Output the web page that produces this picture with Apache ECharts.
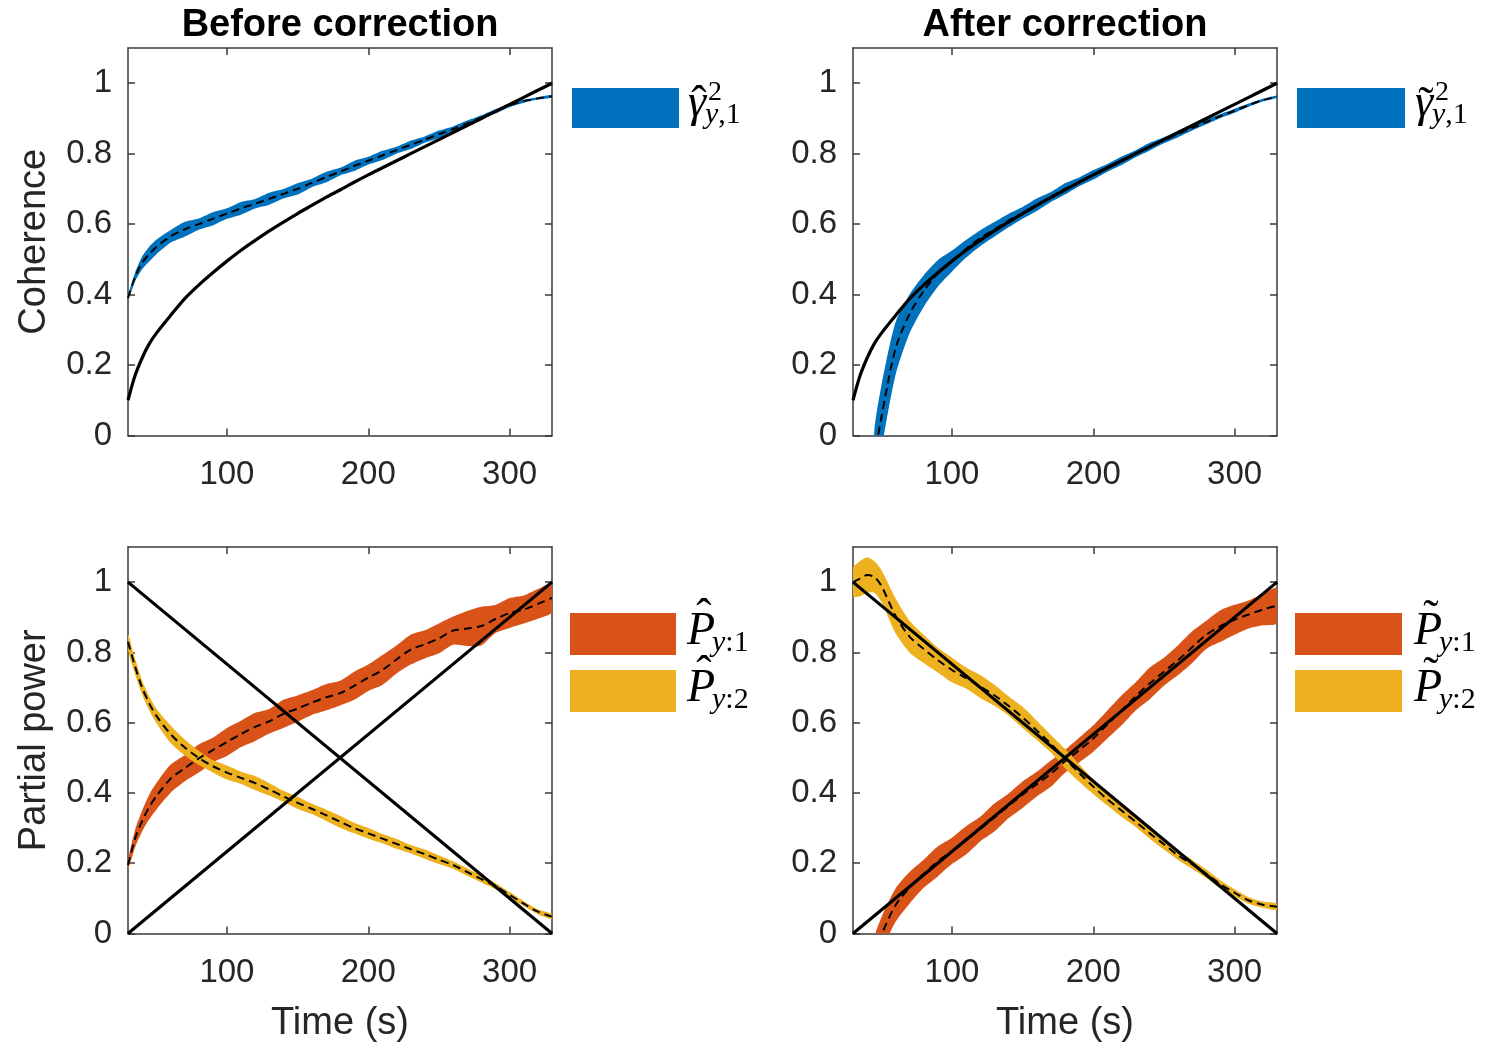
<!DOCTYPE html>
<html>
<head>
<meta charset="utf-8">
<script src="https://cdn.jsdelivr.net/npm/echarts@6/dist/echarts.min.js"></script>
<style>
  html, body { margin: 0; padding: 0; background: #fff; }
  #chart { width: 1486px; height: 1047px; }
</style>
</head>
<body>
<div id="chart"></div>
<script>
// sample times (s), shared by every estimate
const time = [30, 35, 40, 45, 50, 60, 70, 80, 90, 100, 110,
  120, 130, 140, 150, 160, 170, 180, 190, 200, 210, 220,
  230, 240, 250, 260, 270, 280, 290, 300, 310, 320, 330];

// true coherence (black curve, both top panels)
const trueCoherence = [0.10, 0.17, 0.22, 0.26, 0.29, 0.34, 0.388, 0.427, 0.462, 0.495, 0.526,
  0.554, 0.581, 0.606, 0.63, 0.653, 0.676, 0.697, 0.719, 0.74, 0.76, 0.78,
  0.80, 0.82, 0.84, 0.86, 0.88, 0.90, 0.92, 0.94, 0.96, 0.98, 1.0];

// coherence estimate before correction (dashed) and band thickness
const cohBeforeEst = [0.39, 0.45, 0.49, 0.515, 0.535, 0.565, 0.585, 0.60, 0.615, 0.63, 0.645,
  0.658, 0.672, 0.686, 0.70, 0.717, 0.733, 0.749, 0.765, 0.78, 0.795, 0.81,
  0.825, 0.84, 0.855, 0.87, 0.886, 0.903, 0.92, 0.937, 0.949, 0.957, 0.963];
const cohBeforeWidth = [0.012, 0.025, 0.036, 0.042, 0.042, 0.036, 0.042, 0.032, 0.038, 0.03, 0.036,
  0.027, 0.034, 0.027, 0.032, 0.024, 0.03, 0.022, 0.029, 0.022, 0.026, 0.02,
  0.024, 0.018, 0.021, 0.015, 0.016, 0.012, 0.012, 0.01, 0.009, 0.007, 0.007];

// coherence estimate after correction
const cohAfterEst = [null, null, null, -0.07, 0.05, 0.245, 0.345, 0.41, 0.46, 0.495, 0.53,
  0.56, 0.585, 0.61, 0.632, 0.655, 0.677, 0.70, 0.72, 0.74, 0.76, 0.78,
  0.80, 0.82, 0.838, 0.856, 0.873, 0.89, 0.907, 0.922, 0.938, 0.952, 0.962];
const cohAfterWidth = [null, null, null, 0.16, 0.18, 0.15, 0.11, 0.09, 0.075, 0.06, 0.05,
  0.045, 0.042, 0.038, 0.033, 0.035, 0.028, 0.032, 0.025, 0.027, 0.022, 0.024,
  0.02, 0.022, 0.017, 0.018, 0.014, 0.013, 0.011, 0.011, 0.009, 0.008, 0.007];

// true partial powers (black straight lines, both bottom panels)
const trueTime = [30, 330];
const truePower1 = [0, 1];
const truePower2 = [1, 0];

// partial power estimates before correction
const p1BeforeEst = [0.195, 0.27, 0.32, 0.36, 0.39, 0.44, 0.47, 0.498, 0.522, 0.545, 0.568,
  0.588, 0.604, 0.625, 0.64, 0.657, 0.672, 0.684, 0.705, 0.728, 0.75, 0.78,
  0.808, 0.823, 0.84, 0.862, 0.868, 0.875, 0.895, 0.912, 0.922, 0.938, 0.955];
const p1BeforeWidth = [0.025, 0.05, 0.06, 0.07, 0.075, 0.08, 0.075, 0.08, 0.07, 0.08, 0.075,
  0.08, 0.07, 0.08, 0.075, 0.07, 0.075, 0.07, 0.08, 0.075, 0.085, 0.08,
  0.085, 0.08, 0.085, 0.08, 0.1, 0.11, 0.08, 0.085, 0.08, 0.085, 0.08];
const p2BeforeEst = [0.83, 0.76, 0.70, 0.655, 0.62, 0.568, 0.53, 0.50, 0.476, 0.458, 0.443,
  0.428, 0.41, 0.39, 0.372, 0.355, 0.337, 0.318, 0.30, 0.285, 0.27, 0.255,
  0.24, 0.226, 0.21, 0.195, 0.175, 0.155, 0.135, 0.11, 0.085, 0.062, 0.048];
const p2BeforeWidth = [0.045, 0.045, 0.04, 0.04, 0.04, 0.05, 0.045, 0.04, 0.035, 0.04, 0.035,
  0.04, 0.035, 0.032, 0.035, 0.03, 0.032, 0.034, 0.03, 0.03, 0.026, 0.028,
  0.024, 0.026, 0.024, 0.021, 0.021, 0.019, 0.018, 0.016, 0.014, 0.014, 0.014];

// partial power estimates after correction
const p1AfterEst = [null, null, null, -0.06, -0.005, 0.08, 0.13, 0.17, 0.205, 0.235, 0.265,
  0.297, 0.33, 0.363, 0.395, 0.425, 0.455, 0.49, 0.522, 0.555, 0.595, 0.635,
  0.675, 0.712, 0.745, 0.778, 0.815, 0.85, 0.875, 0.893, 0.908, 0.922, 0.933];
const p1AfterWidth = [null, null, null, 0.09, 0.1, 0.095, 0.09, 0.08, 0.085, 0.075, 0.08,
  0.07, 0.08, 0.07, 0.075, 0.07, 0.075, 0.065, 0.07, 0.075, 0.08, 0.085,
  0.08, 0.09, 0.08, 0.085, 0.09, 0.08, 0.09, 0.085, 0.08, 0.09, 0.1];
const p2AfterEst = [1.0, 1.01, 1.02, 1.015, 0.99, 0.905, 0.845, 0.81, 0.778, 0.75, 0.727,
  0.703, 0.678, 0.648, 0.615, 0.578, 0.54, 0.498, 0.457, 0.418, 0.382, 0.35,
  0.318, 0.285, 0.254, 0.222, 0.197, 0.17, 0.14, 0.116, 0.094, 0.082, 0.076];
const p2AfterWidth = [0.08, 0.1, 0.1, 0.09, 0.09, 0.1, 0.09, 0.08, 0.07, 0.07, 0.06,
  0.065, 0.06, 0.055, 0.06, 0.055, 0.05, 0.055, 0.05, 0.042, 0.036, 0.036,
  0.03, 0.03, 0.03, 0.025, 0.025, 0.024, 0.022, 0.02, 0.019, 0.018, 0.018];

const xTicks = [100, 200, 300];
const yTicks = [0, 0.2, 0.4, 0.6, 0.8, 1];

const blue = '#0072BD';
const orange = '#D95319';
const yellow = '#EDB120';
const axisColor = '#3a3a3a';
const textColor = '#262626';
const sans = '"Liberation Sans", Arial, sans-serif';
const serif = '"Liberation Serif", "Times New Roman", serif';

const grids = [
  { left: 128, top: 48, width: 424, height: 387.5 },
  { left: 853, top: 48, width: 424, height: 387.5 },
  { left: 128, top: 547, width: 424, height: 386.5 },
  { left: 853, top: 547, width: 424, height: 386.5 }
];
const yNames = ['Coherence', '', 'Partial power', ''];

const xAxes = [];
const yAxes = [];
grids.forEach((g, i) => {
  ['bottom', 'top'].forEach((pos) => {
    xAxes.push({
      type: 'value', gridIndex: i, position: pos, min: 30, max: 330,
      axisLine: { show: true, onZero: false, lineStyle: { color: axisColor, width: 1.5 } },
      axisTick: { show: true, inside: true, length: 7, customValues: xTicks, lineStyle: { color: axisColor, width: 1.5 } },
      axisLabel: { show: pos === 'bottom', customValues: xTicks, margin: 23, fontSize: 33, fontFamily: sans, color: textColor },
      splitLine: { show: false },
      name: pos === 'bottom' && i >= 2 ? 'Time (s)' : '',
      nameLocation: 'middle', nameGap: 71,
      nameTextStyle: { fontSize: 38, fontFamily: sans, color: textColor }
    });
  });
  ['left', 'right'].forEach((pos) => {
    yAxes.push({
      type: 'value', gridIndex: i, position: pos, min: 0, max: 1.1,
      axisLine: { show: true, onZero: false, lineStyle: { color: axisColor, width: 1.5 } },
      axisTick: { show: true, inside: true, length: 7, customValues: yTicks, lineStyle: { color: axisColor, width: 1.5 } },
      axisLabel: { show: pos === 'left', customValues: yTicks, margin: 16, fontSize: 33, fontFamily: sans, color: textColor },
      splitLine: { show: false },
      name: pos === 'left' ? yNames[i] : '',
      nameLocation: 'middle', nameGap: 74,
      nameTextStyle: { fontSize: 38, fontFamily: sans, color: textColor }
    });
  });
});

// confidence band drawn as one polygon through the axis scales
function band(g, est, width, color) {
  const pts = [];
  time.forEach((t, i) => {
    if (est[i] != null) pts.push([t, est[i] - width[i] / 2, est[i] + width[i] / 2]);
  });
  return {
    type: 'custom', xAxisIndex: 2 * g, yAxisIndex: 2 * g, silent: true, z: 2,
    data: pts,
    renderItem(params, api) {
      if (params.dataIndex !== 0) return;
      const upper = pts.map((p) => api.coord([p[0], p[2]]));
      const lower = pts.map((p) => api.coord([p[0], p[1]])).reverse();
      const cs = params.coordSys;
      return {
        type: 'polygon',
        shape: { points: upper.concat(lower), smooth: 0.25 },
        style: { fill: color },
        clipPath: { type: 'rect', shape: { x: cs.x, y: cs.y, width: cs.width, height: cs.height } }
      };
    }
  };
}

function dashed(g, est) {
  return {
    type: 'line', xAxisIndex: 2 * g, yAxisIndex: 2 * g, silent: true, z: 3,
    data: time.map((t, i) => [t, est[i]]).filter((p) => p[1] != null),
    symbol: 'none', smooth: 0.3,
    lineStyle: { color: '#000', width: 2, type: [8, 5] }
  };
}

function solid(g, xs, ys) {
  return {
    type: 'line', xAxisIndex: 2 * g, yAxisIndex: 2 * g, silent: true, z: 4,
    data: xs.map((t, i) => [t, ys[i]]),
    symbol: 'none', smooth: 0.3,
    lineStyle: { color: '#000', width: 3.2 }
  };
}

const series = [
  band(0, cohBeforeEst, cohBeforeWidth, blue),
  dashed(0, cohBeforeEst),
  solid(0, time, trueCoherence),
  band(1, cohAfterEst, cohAfterWidth, blue),
  dashed(1, cohAfterEst),
  solid(1, time, trueCoherence),
  band(2, p1BeforeEst, p1BeforeWidth, orange),
  band(2, p2BeforeEst, p2BeforeWidth, yellow),
  dashed(2, p1BeforeEst),
  dashed(2, p2BeforeEst),
  solid(2, trueTime, truePower1),
  solid(2, trueTime, truePower2),
  band(3, p1AfterEst, p1AfterWidth, orange),
  band(3, p2AfterEst, p2AfterWidth, yellow),
  dashed(3, p1AfterEst),
  dashed(3, p2AfterEst),
  solid(3, trueTime, truePower1),
  solid(3, trueTime, truePower2)
];

// legend boxes with LaTeX-like labels
const legends = [
  { x: 572, y: 88, w: 107, h: 40, color: blue, tx: 688, base: 118, sym: 'γ', acc: 'ˆ', sup: '2', sub: ',1' },
  { x: 1297, y: 88, w: 108, h: 40, color: blue, tx: 1415, base: 118, sym: 'γ', acc: '˜', sup: '2', sub: ',1' },
  { x: 570, y: 613, w: 106, h: 42, color: orange, tx: 687, base: 646, sym: 'P', acc: 'ˆ', sub: ':1' },
  { x: 570, y: 670, w: 106, h: 42, color: yellow, tx: 687, base: 703, sym: 'P', acc: 'ˆ', sub: ':2' },
  { x: 1295, y: 613, w: 107, h: 42, color: orange, tx: 1414, base: 646, sym: 'P', acc: '˜', sub: ':1' },
  { x: 1295, y: 670, w: 107, h: 42, color: yellow, tx: 1414, base: 703, sym: 'P', acc: '˜', sub: ':2' }
];
const graphic = [];
legends.forEach((l) => {
  const isP = l.sym === 'P';
  graphic.push({ type: 'rect', shape: { x: l.x, y: l.y, width: l.w, height: l.h }, style: { fill: l.color } });
  graphic.push({ type: 'text', x: l.tx, y: l.base - 14,
    style: { text: l.sym, font: 'italic 46px ' + serif, fill: '#000', textAlign: 'left', textVerticalAlign: 'middle' } });
  graphic.push({ type: 'text', x: l.tx + (isP ? 17 : 11), y: (isP ? l.base - 42 : l.base - 27) + 15,
    style: { text: l.acc, font: '46px ' + serif, fill: '#000', textAlign: 'center', textVerticalAlign: 'middle' } });
  if (l.sup) {
    graphic.push({ type: 'text', x: l.tx + 20, y: l.base - 16 - 9,
      style: { text: l.sup, font: '28px ' + serif, fill: '#000', textAlign: 'left', textVerticalAlign: 'middle' } });
  }
  graphic.push({ type: 'text', x: l.tx + (isP ? 25 : 17), y: l.base + 6 - 9,
    style: {
      text: '{i|y}{r|' + l.sub + '}', textAlign: 'left', textVerticalAlign: 'middle',
      rich: {
        i: { fontStyle: 'italic', fontSize: 30, fontFamily: serif, fill: '#000' },
        r: { fontSize: 30, fontFamily: serif, fill: '#000' }
      }
    } });
});
graphic.push({ type: 'text', x: 340, y: 26,
  style: { text: 'Before correction', font: 'bold 38px ' + sans, fill: '#000', textAlign: 'center', textVerticalAlign: 'middle' } });
graphic.push({ type: 'text', x: 1065, y: 26,
  style: { text: 'After correction', font: 'bold 38px ' + sans, fill: '#000', textAlign: 'center', textVerticalAlign: 'middle' } });

const chart = echarts.init(document.getElementById('chart'));
chart.setOption({
  animation: false,
  backgroundColor: '#fff',
  grid: grids.map((g) => Object.assign({ containLabel: false, outerBoundsMode: 'none' }, g)),
  xAxis: xAxes,
  yAxis: yAxes,
  series,
  graphic
});
</script>
</body>
</html>
